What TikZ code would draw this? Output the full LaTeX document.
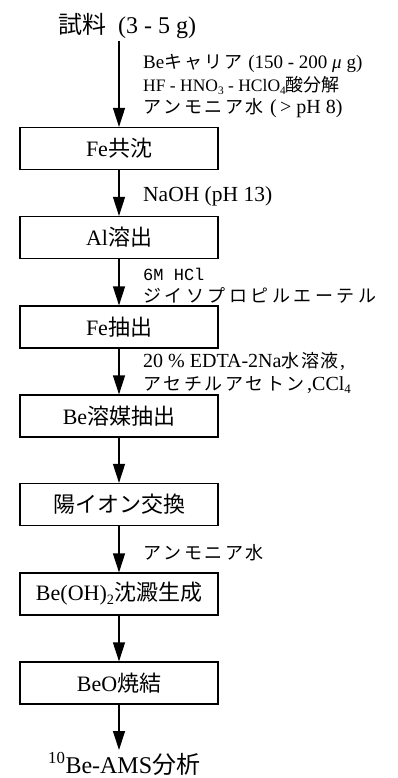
\documentclass[tikz,border=0pt]{standalone}
\usepackage{fontspec}
\setmainfont{Liberation Serif}
\newfontfamily\jp{Noto Sans CJK JP}
\newfontfamily\monof{Liberation Mono}
\usetikzlibrary{arrows.meta}
\newcommand\J[1]{{\jp #1}}
\newcommand\sbs[1]{\raisebox{-0.15em}{\scalebox{0.65}{#1}}}
\makeatletter
\newdimen\kgap
\def\JS#1#2#3{{\fontsize{#1}{#1}\selectfont\jp\kgap=#2pt\relax\js@#3\relax}}
\def\js@#1{\ifx\relax#1\else#1\kern\kgap\expandafter\js@\fi}
\makeatother
\begin{document}
\begin{tikzpicture}[x=1pt,y=-1pt,
  box/.style={draw,line width=1.2pt,minimum width=198pt,minimum height=42pt,inner sep=0pt,font=\fontsize{22}{24}\selectfont},
  lab/.style={anchor=base west,inner sep=0pt},
  big/.style={anchor=base west,inner sep=0pt,font=\fontsize{24}{26}\selectfont},
  arr/.style={line width=1.2pt,-{Triangle[length=19pt,width=12pt]}}]
\useasboundingbox (0,0) rectangle (397,778);
% title and final
\node[big] (title) at (58,34) {\J{試料}\hspace{12pt}(3 - 5 g)};
\node[big] (fin) at (48,773) {\textsuperscript{10}Be-AMS\J{分析}};
% boxes
\node[box] (b1) at (119,148.5) {Fe\J{共沈}};
\node[box] (b2) at (119,237.5) {Al\J{溶出}};
\node[box] (b3) at (119,327) {Fe\J{抽出}};
\node[box] (b4) at (119,416) {Be\J{溶媒抽出}};
\node[box] (b5) at (119,504.5) {\J{陽イオン交換}};
\node[box] (b6) at (119,594) {Be(OH)\sbs{2}\J{沈澱生成}};
\node[box] (b7) at (119,683) {BeO\J{焼結}};
% labels
\node[lab,font=\fontsize{19}{21}\selectfont] (l1) at (143,69) {Be\JS{18}{2}{キャリア}\hspace{4pt}(150 - 200 \textit{μ} g)};
\node[lab,font=\fontsize{17.5}{19}\selectfont] (l2) at (143,92) {HF - HNO\sbs{3} - HClO\sbs{4}\JS{18}{0}{酸分解}};
\node[lab,font=\fontsize{20}{22}\selectfont] (l3) at (143,114) {\JS{18}{2.5}{アンモニア水}\hspace{4pt}(\,> pH 8)};
\node[lab,font=\fontsize{21.5}{23}\selectfont] (l4) at (143,201) {NaOH (pH 13)};
\node[lab,font=\fontsize{17}{19}\selectfont] (l5) at (143,280) {\monof 6M HCl};
\node[lab] (l6) at (143,302) {\JS{18}{3.5}{ジイソプロピルエーテル}};
\node[lab,font=\fontsize{20}{22}\selectfont] (l7) at (143,367) {20 \% EDTA-2Na\JS{18}{1.5}{水溶液},};
\node[lab,font=\fontsize{20}{22}\selectfont] (l8) at (143,390) {\JS{18}{2.5}{アセチルアセトン},CCl\sbs{4}};
\node[lab] (l9) at (143,559) {\JS{18}{2.5}{アンモニア水}};
% arrows
\coordinate (t0) at (119,41);
\coordinate (f0) at (119,750);
\draw[arr] (t0) -- (b1.north);
\draw[arr] (b1.south) -- (b2.north);
\draw[arr] (b2.south) -- (b3.north);
\draw[arr] (b3.south) -- (b4.north);
\draw[arr] (b4.south) -- (b5.north);
\draw[arr] (b5.south) -- (b6.north);
\draw[arr] (b6.south) -- (b7.north);
\draw[arr] (b7.south) -- (f0);
\end{tikzpicture}
\end{document}
